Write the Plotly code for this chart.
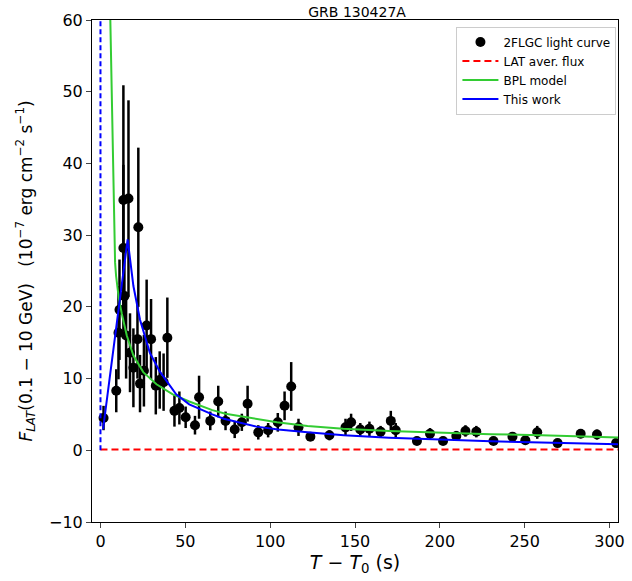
import plotly.graph_objects as go

# ---- data ----
t_obs = [1.8, 9.3, 10.6, 11.2, 13.5, 13.5, 14.1, 15.1, 16.5, 17.4, 19.4, 21.8, 22.3, 23.3,
         25.6, 27.2, 29.8, 32.6, 34.9, 37.2, 39.4, 43.6, 46.5, 50.2, 55.7, 58.1, 64.7,
         69.4, 73.7, 79.1, 83.3, 86.7, 93.0, 98.8, 104.5, 108.5, 112.4, 116.7, 123.7,
         134.9, 144.4, 147.7, 153.1, 158.5, 165.1, 171.1, 174.0, 186.5, 194.2, 201.9,
         209.7, 215.1, 221.5, 231.6, 242.8, 250.4, 257.4, 269.4, 283.0, 292.6, 303.9]
f_obs = [4.5, 8.3, 16.4, 19.6, 34.9, 28.2, 21.5, 16.0, 35.1, 13.6, 11.5, 15.5, 31.1, 9.3,
         11.1, 17.4, 15.5, 9.0, 9.8, 9.5, 15.7, 5.5, 5.9, 4.6, 3.5, 7.4, 4.1,
         6.8, 4.1, 2.9, 3.9, 6.5, 2.5, 2.8, 3.9, 6.2, 8.9, 3.2, 1.9,
         2.1, 3.2, 3.9, 2.9, 3.0, 2.6, 4.1, 2.8, 1.3, 2.3, 1.3,
         2.0, 2.7, 2.6, 1.3, 1.9, 1.4, 2.5, 1.0, 2.3, 2.2, 1.0]
f_err = [1.7, 3.0, 6.5, 7.0, 16.0, 11.6, 5.0, 6.0, 13.7, 5.5, 5.5, 5.5, 11.1, 4.0,
         5.0, 6.4, 5.6, 4.0, 4.0, 4.0, 5.6, 2.2, 2.3, 1.5, 1.3, 3.0, 1.3,
         2.2, 1.3, 1.2, 1.2, 2.5, 1.0, 1.0, 1.3, 2.0, 3.4, 1.2, 0.6,
         0.7, 1.2, 1.2, 0.9, 1.0, 0.8, 1.4, 1.0, 0.4, 0.8, 0.4,
         0.7, 0.8, 0.8, 0.4, 0.6, 0.4, 0.9, 0.3, 0.6, 0.7, 0.3]

# BPL model curve
t_bpl = [5.8, 6.1, 6.4, 6.8, 7.1, 7.4, 7.8, 8.1, 8.6, 9.2, 9.7, 10.8, 12.6, 15.5, 19.4,
         25.2, 33.0, 42.6, 52.3, 65.9, 73.7, 93.0, 104.0, 122.0, 143.0, 170.0, 201.6,
         230.0, 259.7, 305.0]
f_bpl = [60.0, 56.0, 52.0, 46.0, 41.0, 37.0, 32.0, 29.0, 26.2, 24.3, 23.0, 21.2, 19.0,
         16.0, 13.2, 10.9, 9.2, 7.8, 6.8, 5.6, 5.1, 4.3, 3.9, 3.4, 3.0, 2.7, 2.45,
         2.25, 2.1, 1.77]

# "This work" model curve
t_tw = [1.5, 8.7, 16.0, 19.4, 23.3, 29.1, 34.9, 44.6, 52.3, 65.9, 72.7, 92.0, 104.7,
        122.0, 143.4, 170.0, 201.6, 230.0, 259.7, 305.0]
f_tw = [2.9, 16.3, 29.4, 22.9, 18.2, 13.6, 11.0, 7.8, 6.4, 5.0, 4.4, 3.3, 2.9,
        2.5, 2.1, 1.75, 1.45, 1.25, 1.07, 0.84]

lat_aver_flux = 0.1
t0_marker = 0.0
x_range = [-5, 305]
y_range = [-10, 60]
y_ticks = [-10, 0, 10, 20, 30, 40, 50, 60]
x_ticks = [0, 50, 100, 150, 200, 250, 300]

FONT = "DejaVu Sans"

fig = go.Figure()

fig.add_trace(go.Scatter(
    x=t_obs, y=f_obs, mode="markers", name="2FLGC light curve",
    marker=dict(color="black", size=10),
    error_y=dict(type="data", array=f_err, visible=True, color="black",
                 thickness=2.5, width=0),
))

fig.add_trace(go.Scatter(
    x=[t0_marker, x_range[1]], y=[lat_aver_flux, lat_aver_flux], mode="lines",
    name="LAT aver. flux", line=dict(color="#ff0000", width=2, dash="7px,4px"),
))

fig.add_trace(go.Scatter(
    x=t_bpl, y=f_bpl, mode="lines", name="BPL model",
    line=dict(color="#33cc33", width=2, shape="linear"),
))

fig.add_trace(go.Scatter(
    x=t_tw, y=f_tw, mode="lines", name="This work",
    line=dict(color="#0000ff", width=2, shape="linear"),
))

fig.add_shape(type="line", xref="x", yref="y", x0=t0_marker, x1=t0_marker,
              y0=0, y1=y_range[1], line=dict(color="#0000ff", width=2, dash="5px,3px"))

fig.update_layout(
    width=632, height=581,
    margin=dict(l=92, r=7, t=20, b=59),
    paper_bgcolor="white", plot_bgcolor="white",
    font=dict(family=FONT, color="black", size=16),
    title=dict(text="GRB 130427A", x=0.565, xanchor="center", yref="container",
               y=0.988, yanchor="top", pad=dict(t=0, b=0),
               font=dict(size=14, family=FONT)),
    showlegend=True,
    legend=dict(x=0.997, xanchor="right", y=0.987, yanchor="top",
                bgcolor="white", bordercolor="#cccccc", borderwidth=1,
                font=dict(size=12, family=FONT), tracegroupgap=0,
                itemwidth=36, entrywidth=130),
)

fig.update_xaxes(
    range=x_range, tickvals=x_ticks, ticks="outside", ticklen=5, tickwidth=1,
    showline=True, linecolor="black", linewidth=1, mirror=True, showgrid=False,
    zeroline=False, tickfont=dict(size=16),
    title=dict(text="<i>T</i> − <i>T</i><sub>0</sub> (s)", font=dict(size=19), standoff=4),
)
fig.update_yaxes(
    range=y_range, tickvals=y_ticks, ticks="outside", ticklen=5, tickwidth=1,
    showline=True, linecolor="black", linewidth=1, mirror=True, showgrid=False,
    zeroline=False, tickfont=dict(size=16),
    tickformat="d",
    title=dict(text="<i>F</i><sub><i>LAT</i></sub>(0.1 − 10 GeV)   (10<sup>−7</sup> erg cm<sup>−2</sup> s<sup>−1</sup>)",
               font=dict(size=17), standoff=12),
)

fig.write_html("out.html", config={"displayModeBar": False},
               post_script="document.body.style.margin='0';")
